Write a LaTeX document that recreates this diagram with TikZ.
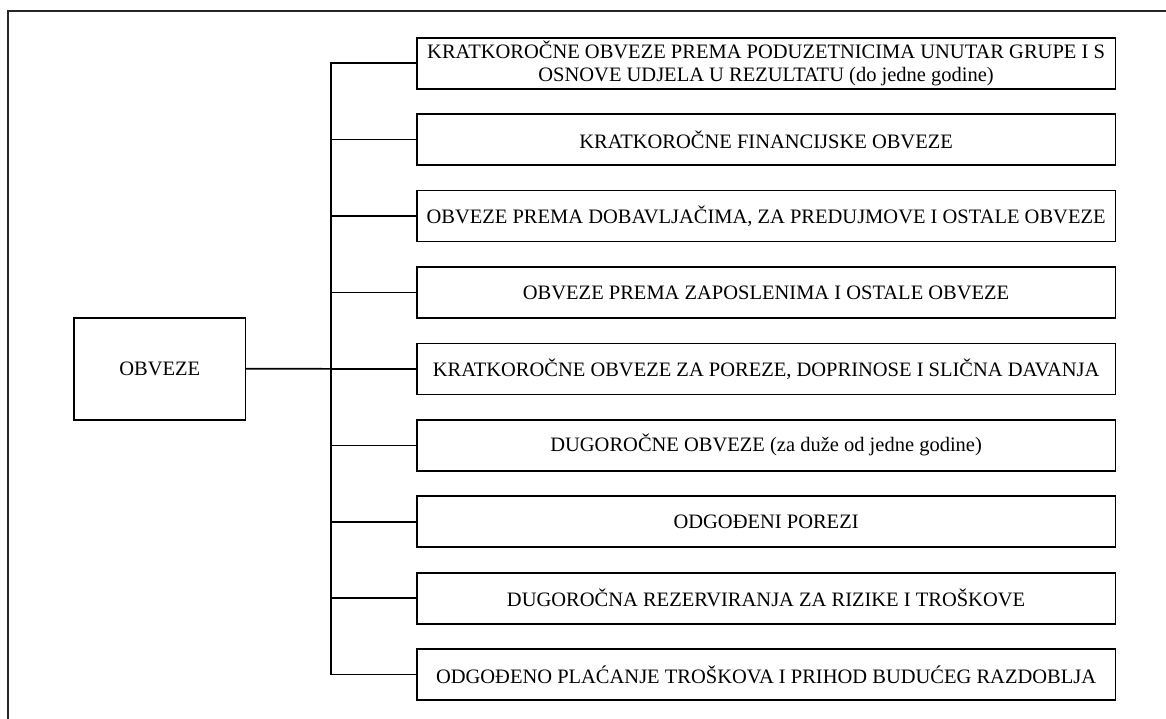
\documentclass[tikz,border=0pt]{standalone}
\usepackage{fontspec}
\setmainfont{Liberation Serif}
\begin{document}
\begin{tikzpicture}[x=1pt,y=-1pt,
  box/.style={draw=black,line width=1.7pt,minimum width=698.8pt,minimum height=51pt,
    inner sep=0pt,align=center,font=\fontsize{20.5}{23.5}\selectfont},
  rootbox/.style={draw=black,line width=1.7pt,minimum width=171.3pt,minimum height=102pt,
    inner sep=0pt,font=\fontsize{20.5}{23.5}\selectfont},
  conn/.style={draw=black,line width=1.6pt},
  frame/.style={draw=black!85,line width=1.1pt}]
\useasboundingbox (0,0) rectangle (1166,719);
\draw[frame] (8,730) -- (8,11) -- (1180,11);
\coordinate (t) at (331,0);
\node[rootbox] (o) at (159.7,368.7) {OBVEZE};
\foreach \i/\txt in {
  1/{KRATKOROČNE OBVEZE PREMA PODUZETNICIMA UNUTAR GRUPE I S\\OSNOVE UDJELA U REZULTATU (do jedne godine)},
  2/{KRATKOROČNE FINANCIJSKE OBVEZE},
  3/{OBVEZE PREMA DOBAVLJAČIMA, ZA PREDUJMOVE I OSTALE OBVEZE},
  4/{OBVEZE PREMA ZAPOSLENIMA I OSTALE OBVEZE},
  5/{KRATKOROČNE OBVEZE ZA POREZE, DOPRINOSE I SLIČNA DAVANJA},
  6/{DUGOROČNE OBVEZE (za duže od jedne godine)},
  7/{ODGOĐENI POREZI},
  8/{DUGOROČNA REZERVIRANJA ZA RIZIKE I TROŠKOVE},
  9/{ODGOĐENO PLAĆANJE TROŠKOVA I PRIHOD BUDUĆEG RAZDOBLJA}}
  {\node[box] (b\i) at (766.1,{63.2+76.43*(\i-1)}) {\txt};}
\draw[conn] (b1.west) -- (b1.west -| t) -- (b9.west -| t) -- (b9.west);
\foreach \i in {2,...,8} {\draw[conn] (b\i.west) -- (b\i.west -| t);}
\draw[conn] (o.east) -- (b5.west);
\end{tikzpicture}
\end{document}
